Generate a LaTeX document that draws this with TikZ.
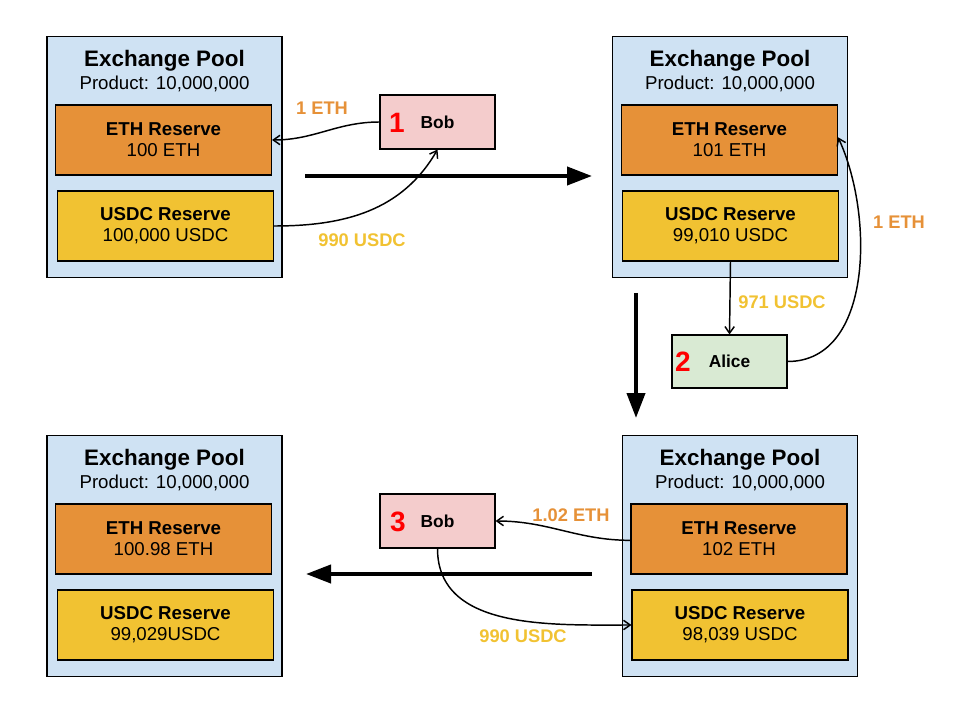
\documentclass[tikz,border=0pt]{standalone}
\usepackage{fontspec}
\setmainfont{Liberation Sans}
\usetikzlibrary{arrows.meta}
\definecolor{poolblue}{HTML}{CFE2F3}
\definecolor{ethorange}{HTML}{E69138}
\definecolor{usdcyellow}{HTML}{F1C232}
\definecolor{bobpink}{HTML}{F4CCCC}
\definecolor{alicegreen}{HTML}{D9EAD3}
\tikzset{
  pool/.style={draw, fill=poolblue, minimum width=176.25pt, minimum height=181pt, inner sep=0pt, line width=0.8pt},
  reserve/.style={draw, minimum width=162pt, minimum height=52.5pt, inner sep=0pt, line width=0.8pt, align=center, font=\fontsize{14}{16}\selectfont},
  ethres/.style={reserve, fill=ethorange},
  usdcres/.style={reserve, fill=usdcyellow},
  titletext/.style={font=\fontsize{16.8}{19}\selectfont\bfseries, inner sep=0pt},
  prodtext/.style={font=\fontsize{14}{16}\selectfont, inner sep=0pt},
  person/.style={draw, minimum width=86.25pt, minimum height=40.5pt, inner sep=0pt, line width=0.8pt, font=\fontsize{13}{15}\selectfont\bfseries},
  stepnum/.style={text=red, font=\fontsize{21}{24}\selectfont\bfseries, inner sep=0pt},
  ethlabel/.style={text=ethorange, font=\fontsize{13.7}{16}\selectfont\bfseries, inner sep=0pt},
  usdclabel/.style={text=usdcyellow, font=\fontsize{13.7}{16}\selectfont\bfseries, inner sep=0pt},
  flow/.style={line width=1.1pt, -{Straight Barb[length=5pt,width=7pt]}},
  bigarrow/.style={line width=3pt, -{Triangle[length=18.75pt,width=13.5pt]}}
}
\begin{document}
\begin{tikzpicture}[x=0.75pt,y=-0.75pt]
\useasboundingbox (0,0) rectangle (960,720);
% Pool 1
\node[pool] (p1) at (164.5,157) {};
\node[titletext] (t1) at (164.5,61) {Exchange Pool};
\node[prodtext] (q1) at (164.5,84) {Product: 10,000,000};
\node[ethres] (e1) at (163.5,140) {\textbf{ETH Reserve}\\100 ETH};
\node[usdcres] (u1) at (165.5,226) {\textbf{USDC Reserve}\\100,000 USDC};
% Pool 2
\node[pool] (p2) at (730,157) {};
\node[titletext] (t2) at (730,61) {Exchange Pool};
\node[prodtext] (q2) at (730,84) {Product: 10,000,000};
\node[ethres] (e2) at (729.5,140) {\textbf{ETH Reserve}\\101 ETH};
\node[usdcres] (u2) at (730.5,226) {\textbf{USDC Reserve}\\99,010 USDC};
% Pool 3
\node[pool] (p3) at (740,556) {};
\node[titletext] (t3) at (740,460) {Exchange Pool};
\node[prodtext] (q3) at (740,483) {Product: 10,000,000};
\node[ethres] (e3) at (739,539) {\textbf{ETH Reserve}\\102 ETH};
\node[usdcres] (u3) at (740,625) {\textbf{USDC Reserve}\\98,039 USDC};
% Pool 4
\node[pool] (p4) at (164.5,556) {};
\node[titletext] (t4) at (164.5,460) {Exchange Pool};
\node[prodtext] (q4) at (164.5,483) {Product: 10,000,000};
\node[ethres] (e4) at (163.5,539) {\textbf{ETH Reserve}\\100.98 ETH};
\node[usdcres] (u4) at (165.5,625) {\textbf{USDC Reserve}\\99,029USDC};
% People
\node[person, fill=bobpink] (b1) at (437.5,122) {Bob};
\node[stepnum] (n1) at (397,123) {1};
\node[person, fill=alicegreen, minimum height=39.75pt] (al) at (729.5,361.5) {Alice};
\node[stepnum] (n2) at (683,362) {2};
\node[person, fill=bobpink] (b3) at (437.5,521) {Bob};
\node[stepnum] (n3) at (398,522) {3};
% Flows
\draw[flow] (b1.west) to[out=180,in=0] (e1.east);
\draw[flow] (u1.east) to[out=0,in=-120] (b1.south);
\draw[flow] (u2.south) -- (al.north);
\draw[flow] (al.east) to[out=0,in=-65,looseness=0.95] ([yshift=2pt]e2.east);
\draw[flow] ([yshift=-1pt]e3.west) to[out=180,in=0] (b3.east);
\draw[flow] (b3.south) to[out=-90,in=180] (u3.west);
% Flow labels
\node[ethlabel] (l1) at (322,108) {1 ETH};
\node[usdclabel] (l2) at (362,240) {990 USDC};
\node[usdclabel] (l3) at (782,302) {971 USDC};
\node[ethlabel] (l4) at (899,222) {1 ETH};
\node[ethlabel] (l5) at (571,515) {1.02 ETH};
\node[usdclabel] (l6) at (523,636) {990 USDC};
% Step arrows
\coordinate (s1a) at (305,176);
\coordinate (s1b) at (592,176);
\coordinate (s2a) at (636,293);
\coordinate (s2b) at (636,418);
\coordinate (s3a) at (592,574);
\coordinate (s3b) at (306,574);
\draw[bigarrow] (s1a) -- (s1b);
\draw[bigarrow] (s2a) -- (s2b);
\draw[bigarrow] (s3a) -- (s3b);
\end{tikzpicture}
\end{document}
